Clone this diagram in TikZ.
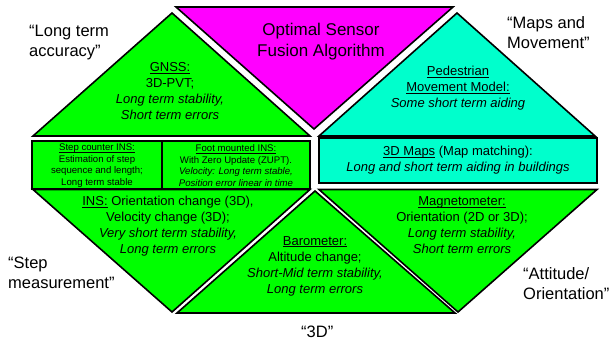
\documentclass[tikz,border=0pt]{standalone}
\usepackage{fontspec}
\setmainfont{Liberation Sans}
\usepackage{tikz}
\usetikzlibrary{positioning}

\definecolor{sensgreen}{RGB}{0,255,0}
\definecolor{sensmagenta}{RGB}{255,0,255}
\definecolor{senscyan}{RGB}{0,255,204}

% underline that ignores descenders
\newcommand{\ulhead}[1]{\underline{\raisebox{0pt}[\height][0pt]{#1}}}

\tikzset{
  panel/.style = {draw = black, line width = 1.6pt, line join = miter},
  txt/.style = {align = center, inner sep = 0pt, font = \fontsize{13}{16}\selectfont},
  small/.style = {align = center, inner sep = 0pt, font = \fontsize{9.6}{11.6}\selectfont},
  quote/.style = {align = left, inner sep = 0pt, anchor = west, font = \fontsize{16.5}{20}\selectfont}
}

\begin{document}
\begin{tikzpicture}[x = 1pt, y = -1pt]
\useasboundingbox (0,0) rectangle (612,343);

% upper row: GNSS, fusion, pedestrian model
\filldraw[panel, fill = sensgreen] (33,136) -- (172,13) -- (310,136) -- cycle;
\filldraw[panel, fill = sensmagenta] (176,7) -- (453,7) -- (314,129) -- cycle;
\filldraw[panel, fill = senscyan] (319,136) -- (457,13) -- (595,136) -- cycle;

% middle row: step / foot INS and maps
\filldraw[panel, fill = sensgreen] (32,141) rectangle (310,189);
\draw[panel] (162,141) -- (162,189);
\filldraw[panel, fill = senscyan] (319,138) rectangle (597,183);

% lower row: INS, barometer, magnetometer
\filldraw[panel, fill = sensgreen] (33,189.5) -- (310,189.5) -- (172,312) -- cycle;
\filldraw[panel, fill = sensgreen] (177,313) -- (315,191) -- (455,313) -- cycle;
\filldraw[panel, fill = sensgreen] (319,189.5) -- (597,189.5) -- (458,312) -- cycle;

% texts inside
\node[align = center, inner sep = 0pt, font = \fontsize{17}{21}\selectfont] (10) at (321,42) {Optimal Sensor\\Fusion Algorithm};
\node[txt] (11) at (170,91) {\ulhead{GNSS:}\\3D-PVT;\\\textit{Long term stability,}\\\textit{Short term errors}};
\node[txt] (12) at (458,88.5) {\ulhead{Pedestrian}\\\ulhead{Movement Model:}\\\textit{Some short term aiding}};
\node[small] (13) at (97,165.5) {\ulhead{Step counter INS:}\\Estimation of step\\sequence and length;\\Long term stable};
\node[small] (14) at (236,165.5) {\ulhead{Foot mounted INS:}\\With Zero Update (ZUPT).\\\textit{Velocity: Long term stable,}\\\textit{Position error linear in time}};
\node[txt] (15) at (458,160.5) {\ulhead{3D Maps} (Map matching):\\\textit{Long and short term aiding in buildings}};
\node[txt] (16) at (168,226.5) {\ulhead{INS:} Orientation change (3D),\\Velocity change (3D);\\\textit{Very short term stability,}\\\textit{Long term errors}};
\node[txt] (17) at (315,266) {\ulhead{Barometer:}\\Altitude change;\\\textit{Short-Mid term stability,}\\\textit{Long term errors}};
\node[txt] (18) at (462,225) {\ulhead{Magnetometer:}\\Orientation (2D or 3D);\\\textit{Long term stability,}\\\textit{Short term errors}};

% outer labels
\node[quote] (20) at (29,43) {“Long term\\accuracy”};
\node[quote] (21) at (507,33) {“Maps and\\Movement”};
\node[quote] (22) at (8,273) {“Step\\measurement”};
\node[quote] (23) at (301,332) {“3D”};
\node[quote] (24) at (523,284) {“Attitude/\\Orientation”};
\end{tikzpicture}
\end{document}
